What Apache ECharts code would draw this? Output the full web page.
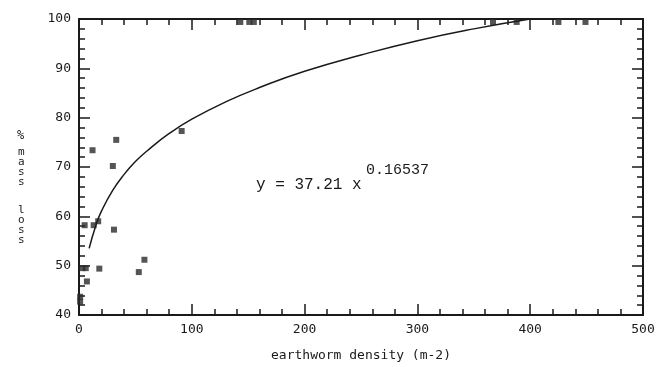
<!DOCTYPE html>
<html>
<head>
<meta charset="utf-8">
<script src="https://cdn.jsdelivr.net/npm/echarts@6/dist/echarts.min.js"></script>
<style>
  html, body { margin: 0; padding: 0; background: #fff; }
  #main { width: 661px; height: 367px; }
</style>
</head>
<body>
<div id="main"></div>
<script>
// observed points (earthworm density, % mass loss)
const densityPts = [5, 13, 17, 31, 3, 6, 18, 7, 1, 1, 12, 33, 30, 53, 58, 91, 143, 151, 155, 367, 388, 425, 449];
const massLossPts = [58.2, 58.2, 59, 57.3, 49.5, 49.5, 49.4, 46.8, 43.7, 42.7, 73.4, 75.5, 70.2, 48.7, 51.2, 77.3, 99.4, 99.4, 99.4, 99.4, 99.4, 99.4, 99.4];

// fitted curve
const curveX = [9, 15, 20, 30, 40, 50, 60, 80, 100, 130, 160, 200, 250, 300, 350, 400];
const curveY = [53.5, 58.2, 61.1, 65.3, 68.5, 71.1, 73.2, 76.8, 79.7, 83.2, 86.1, 89.4, 92.7, 95.6, 98.0, 100];

const xTicks = [0, 100, 200, 300, 400, 500];
const yTicks = [40, 50, 60, 70, 80, 90, 100];

const ink = '#1a1a1a';
const mono = '"DejaVu Sans Mono", monospace';

const chartDom = document.getElementById('main');
const myChart = echarts.init(chartDom, null, { renderer: 'canvas' });

const tickStyle = (show) => ({
  axisLine: { show: true, onZero: false, lineStyle: { color: ink, width: 2 } },
  axisTick: { show: true, inside: true, length: 11, lineStyle: { color: ink, width: 1.5 } },
  minorTick: { show: true, splitNumber: 5, length: 6, lineStyle: { color: ink, width: 1.5 } },
  splitLine: { show: false },
  axisLabel: { show: show, color: ink, fontFamily: mono, fontSize: 13 }
});

const xBase = {
  type: 'value', min: xTicks[0], max: xTicks[xTicks.length - 1], interval: 100
};
const yBase = {
  type: 'value', min: yTicks[0], max: yTicks[yTicks.length - 1], interval: 10
};

const option = {
  backgroundColor: '#fff',
  animation: false,
  grid: { left: 79, right: 18, top: 19, bottom: 50 },
  xAxis: [
    Object.assign({}, xBase, tickStyle(true), {
      position: 'bottom',
      name: 'earthworm density (m-2)',
      nameLocation: 'middle',
      nameGap: 34,
      nameTextStyle: { color: ink, fontFamily: mono, fontSize: 13 }
    }),
    Object.assign({}, xBase, tickStyle(false), { position: 'top' })
  ],
  yAxis: [
    Object.assign({}, yBase, tickStyle(true), { position: 'left' }),
    Object.assign({}, yBase, tickStyle(false), { position: 'right' })
  ],
  graphic: [
    { type: 'text', left: 17, top: 130, style: { text: '%', fill: ink, font: '12px ' + mono } },
    { type: 'text', left: 18, top: 147, style: { text: 'm\na\ns\ns', fill: ink, font: '11px ' + mono, lineHeight: 10 } },
    { type: 'text', left: 18, top: 205, style: { text: 'l\no\ns\ns', fill: ink, font: '11px ' + mono, lineHeight: 10 } },
    { type: 'text', left: 256, top: 177, style: { text: 'y = 37.21 x', fill: ink, font: '16px "Liberation Mono", monospace' } },
    { type: 'text', left: 366, top: 163, style: { text: '0.16537', fill: ink, font: '15px "Liberation Mono", monospace' } }
  ],
  series: [
    {
      type: 'line',
      data: curveX.map((x, i) => [x, curveY[i]]),
      smooth: true,
      showSymbol: false,
      lineStyle: { color: ink, width: 1.5 }
    },
    {
      type: 'scatter',
      data: densityPts.map((x, i) => [x, massLossPts[i]]),
      symbol: 'rect',
      symbolSize: 6,
      itemStyle: { color: '#2a2a2a' }
    }
  ]
};

myChart.setOption(option);
</script>
</body>
</html>
